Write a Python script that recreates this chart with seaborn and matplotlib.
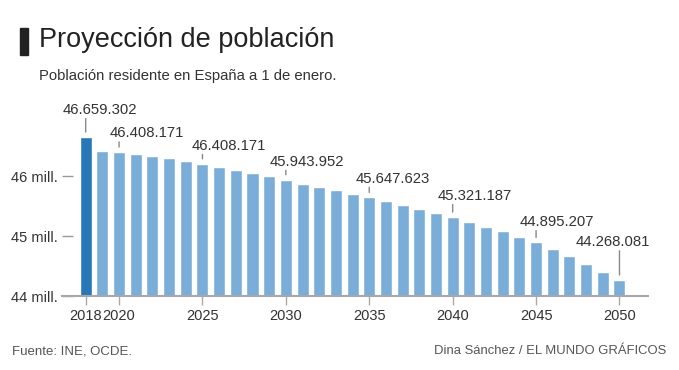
import matplotlib
matplotlib.use("Agg")
import matplotlib.pyplot as plt
import seaborn as sns
import pandas as pd

# Population on 1 January, millions
years = list(range(2018, 2051))
population = [46.659, 46.424, 46.408, 46.379, 46.340, 46.306, 46.260, 46.210,
              46.160, 46.105, 46.055, 46.000, 45.944, 45.880, 45.830, 45.770,
              45.700, 45.648, 45.586, 45.520, 45.450, 45.385, 45.321, 45.240,
              45.160, 45.080, 44.990, 44.895, 44.780, 44.670, 44.540, 44.400,
              44.268]
highlight = ["actual"] + ["proyeccion"] * (len(years) - 1)

# labelled bars and their texts
label_years = [2018, 2020, 2025, 2030, 2035, 2040, 2045, 2050]
label_texts = ["46.659.302", "46.408.171", "46.408.171", "45.943.952",
               "45.647.623", "45.321.187", "44.895.207", "44.268.081"]

tick_years = [2018, 2020, 2025, 2030, 2035, 2040, 2045, 2050]
y_ticks = [44, 45, 46]
y_ticklabels = ["44 mill.", "45 mill.", "46 mill."]

df = pd.DataFrame({"year": years, "pop": population, "kind": highlight})

sns.set_theme(style="white")
plt.rcParams["font.family"] = ["Liberation Sans", "DejaVu Sans"]

fig = plt.figure(figsize=(6.79, 3.70), dpi=100)
ax = fig.add_axes([62 / 679, 1 - 296 / 370, (648 - 62) / 679, 191.3 / 370])

sns.barplot(data=df, x="year", y="pop", hue="kind",
            palette={"actual": "#2878b8", "proyeccion": "#7aaed9"},
            width=0.72, legend=False, ax=ax, saturation=1)

ax.set_xlim(-1.42, 33.71)
ax.set_ylim(44, 47.2)
ax.set_xlabel("")
ax.set_ylabel("")

for s in ["top", "right", "left"]:
    ax.spines[s].set_visible(False)
ax.spines["bottom"].set_color("#a8a8a8")
ax.spines["bottom"].set_linewidth(1.5)

ax.set_yticks(y_ticks)
ax.set_yticklabels(y_ticklabels)
ax.tick_params(axis="y", direction="in", length=8, width=1, color="#999999",
               pad=3, labelsize=10.5, labelcolor="#333333", left=True)

tick_pos = [years.index(y) for y in tick_years]
ax.set_xticks(tick_pos)
ax.set_xticklabels([str(y) for y in tick_years])
ax.tick_params(axis="x", direction="out", length=6.5, width=1, color="#aaaaaa",
               pad=3, labelsize=10.5, labelcolor="#333333", bottom=True)

# per-label placement in pixels: (text start dx, text centre dy)
offsets = {2018: (-22.7, 27), 2020: (-9, 18.7), 2025: (-10.8, 18),
           2030: (-15.9, 18), 2035: (-13.5, 18.7), 2040: (-15.1, 21),
           2045: (-16.5, 20.4), 2050: (-43.5, 37.7)}
pt = 0.72
for yr, txt in zip(label_years, label_texts):
    i = years.index(yr)
    val = population[i]
    dx, dy = offsets[yr]
    ax.annotate(txt, xy=(i, val), xytext=(dx * pt, dy * pt),
                textcoords="offset points", ha="left", va="center",
                fontsize=10.7, color="#333333", annotation_clip=False)
    ax.annotate("", xy=(i, val), xytext=(0, (dy - 8.5) * pt),
                textcoords="offset points", annotation_clip=False,
                arrowprops=dict(arrowstyle="-", color="#888888", lw=1,
                                shrinkA=0, shrinkB=5 * pt))

# title block
fig.patches.append(plt.Rectangle((20 / 679, 1 - 55 / 370), 8 / 679, 27 / 370,
                                 transform=fig.transFigure, color="#222222"))
fig.text(39 / 679, 1 - 40 / 370, "Proyección de población", fontsize=19.5,
         color="#222222", va="center", ha="left")
fig.text(39 / 679, 1 - 76 / 370, "Población residente en España a 1 de enero.",
         fontsize=10.7, color="#333333", va="center", ha="left")

fig.text(12 / 679, 1 - 351 / 370, "Fuente: INE, OCDE.", fontsize=9.5,
         color="#555555", va="center", ha="left",
         family=["Liberation Sans Narrow", "Liberation Sans"])
fig.text(666 / 679, 1 - 351 / 370, "Dina Sánchez / EL MUNDO GRÁFICOS",
         fontsize=9.4, color="#555555", va="center", ha="right",
         family=["Liberation Sans Narrow", "Liberation Sans"])

fig.savefig("out.png", dpi=100)
